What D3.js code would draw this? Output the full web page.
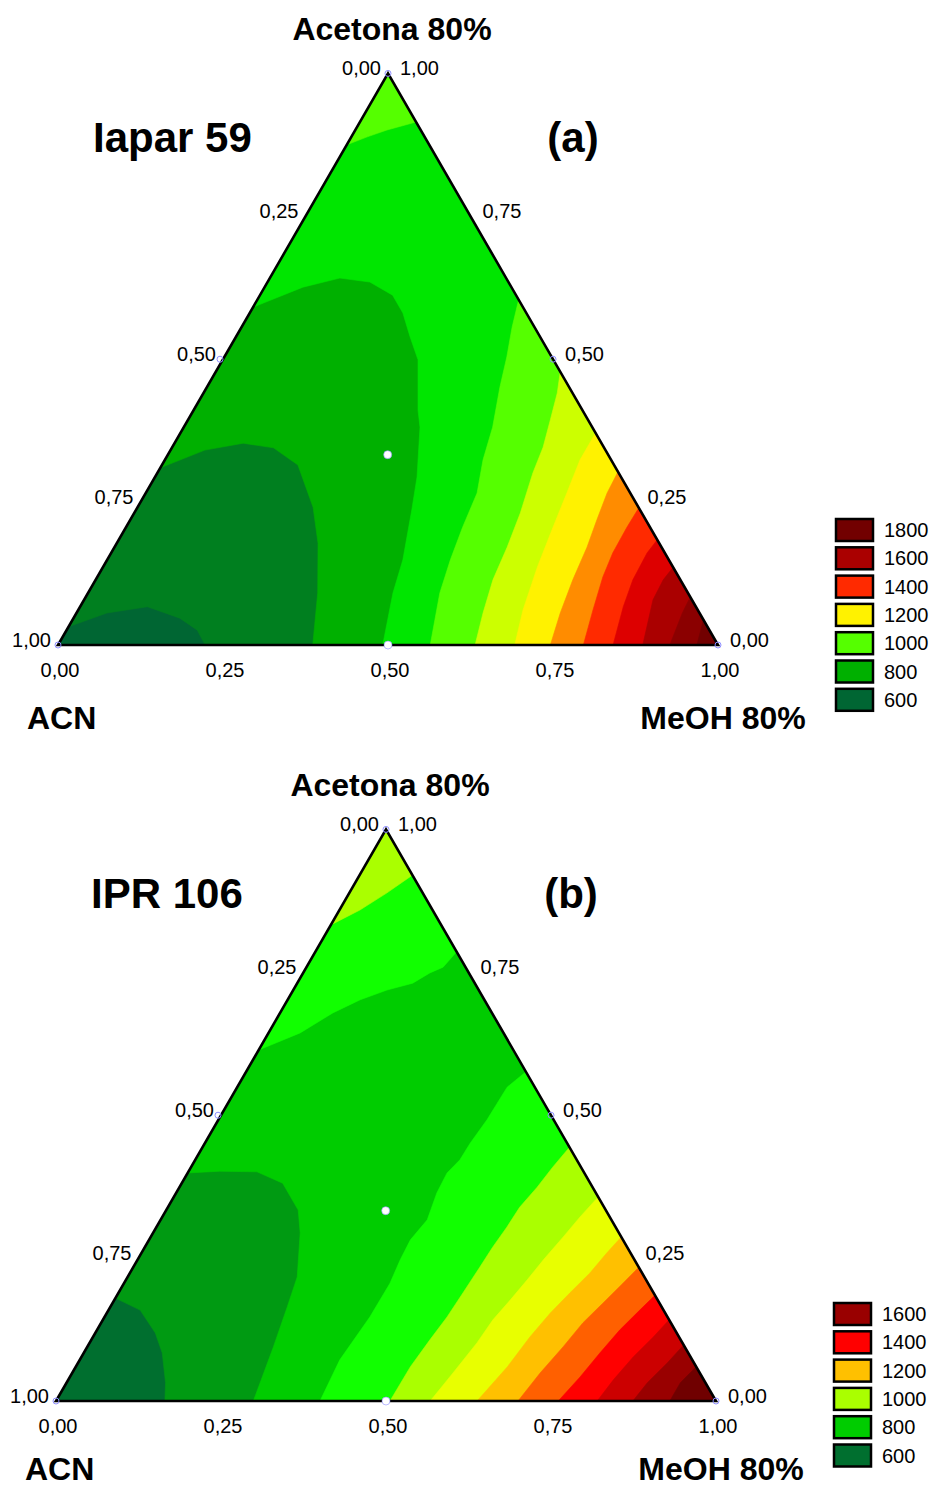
<!DOCTYPE html>
<html>
<head>
<meta charset="utf-8">
<script src="https://cdn.jsdelivr.net/npm/d3@7"></script>
<style>
  body { margin: 0; background: #fff; }
  text { font-family: "Liberation Sans", Arial, sans-serif; fill: #000; }
</style>
</head>
<body>
<svg id="chart" width="931" height="1488"></svg>
<script>
// ternary points are [MeOH, Acetona]; ACN = 1 - MeOH - Acetona
const ticks = [0, 0.25, 0.5, 0.75, 1];
const designPts = [[0, 1, "ring"], [0, 0, "ring"], [1, 0, "ring"], [0, 0.5, "ring"], [0.5, 0.5, "ring"], [0.5, 0, "dot"], [0.333, 0.333, "dot"]];

const levelsA = [600, 700, 800, 900, 1000, 1100, 1200, 1300, 1400, 1500, 1600, 1700, 1800];
const colorsA = ["#006633", "#007f1f", "#00b000", "#00e600", "#55ff00", "#ccff00", "#fff200",
                 "#ff8c00", "#ff2a00", "#dd0000", "#aa0000", "#8b0000", "#720000"];
const legendA = [1800, 1600, 1400, 1200, 1000, 800, 600];

const levelsB = [600, 700, 800, 900, 1000, 1100, 1200, 1300, 1400, 1500, 1600, 1700];
const colorsB = ["#006f2f", "#009a12", "#00cc00", "#11ff00", "#aaff00", "#e8ff00", "#ffc000",
                 "#ff6000", "#ff0000", "#cc0000", "#990000", "#700000"];
const legendB = [1600, 1400, 1200, 1000, 800, 600];

// contour lines [level, points], region on the high side gets the level colour
const contoursA = [
  [700, [[0, 0.032], [0.046, 0.056], [0.102, 0.067], [0.161, 0.047], [0.198, 0.026], [0.223, 0]]],
  [800, [[0, 0.31], [0.052, 0.341], [0.104, 0.353], [0.154, 0.345], [0.206, 0.315], [0.266, 0.241], [0.305, 0.178], [0.348, 0.091], [0.386, 0]]],
  [900, [[0, 0.591], [0.058, 0.626], [0.106, 0.642], [0.155, 0.635], [0.201, 0.612], [0.232, 0.581], [0.264, 0.539], [0.296, 0.499],
         [0.34, 0.411], [0.358, 0.381], [0.397, 0.294], [0.418, 0.236], [0.448, 0.149], [0.462, 0.091], [0.492, 0]]],
  [1000, [[0, 0.875], [0.024, 0.889], [0.048, 0.901], [0.085, 0.915]]],
  [1000, [[0.396, 0.604], [0.41, 0.556], [0.428, 0.504], [0.444, 0.451], [0.468, 0.381], [0.482, 0.324], [0.502, 0.266], [0.51, 0.206],
          [0.52, 0.149], [0.533, 0.091], [0.564, 0]]],
  [1100, [[0.522, 0.478], [0.536, 0.441], [0.549, 0.394], [0.562, 0.346], [0.569, 0.301], [0.585, 0.231], [0.595, 0.171], [0.602, 0.114], [0.616, 0.056], [0.632, 0]]],
  [1200, [[0.629, 0.371], [0.629, 0.324], [0.638, 0.266], [0.647, 0.206], [0.658, 0.137], [0.674, 0.061], [0.692, 0]]],
  [1300, [[0.697, 0.303], [0.699, 0.266], [0.707, 0.219], [0.716, 0.171], [0.723, 0.114], [0.733, 0.056], [0.746, 0]]],
  [1400, [[0.76, 0.24], [0.759, 0.206], [0.76, 0.161], [0.766, 0.119], [0.78, 0.061], [0.796, 0]]],
  [1500, [[0.816, 0.184], [0.812, 0.161], [0.814, 0.114], [0.823, 0.067], [0.841, 0]]],
  [1600, [[0.864, 0.136], [0.86, 0.114], [0.862, 0.079], [0.886, 0]]],
  [1700, [[0.916, 0.084], [0.918, 0.056], [0.927, 0]]],
  [1800, [[0.956, 0.044], [0.968, 0]]]
];

const contoursB = [
  [700, [[0, 0.18], [0.048, 0.159], [0.091, 0.119], [0.119, 0.084], [0.15, 0.032], [0.165, 0]]],
  [800, [[0, 0.399], [0.047, 0.402], [0.104, 0.401], [0.153, 0.381], [0.2, 0.334], [0.223, 0.294], [0.257, 0.217], [0.268, 0.165], [0.282, 0.095], [0.299, 0]]],
  [900, [[0, 0.614], [0.048, 0.644], [0.08, 0.679], [0.11, 0.702], [0.142, 0.719], [0.175, 0.731], [0.192, 0.749], [0.207, 0.759], [0.214, 0.786]]],
  [900, [[0.424, 0.576], [0.409, 0.549], [0.408, 0.521], [0.407, 0.492], [0.402, 0.451], [0.401, 0.422], [0.393, 0.399], [0.395, 0.364],
         [0.404, 0.317], [0.396, 0.282], [0.398, 0.247], [0.403, 0.206], [0.402, 0.147], [0.394, 0.072], [0.4, 0]]],
  [1000, [[0, 0.833], [0.031, 0.859], [0.057, 0.889], [0.08, 0.92]]],
  [1000, [[0.556, 0.444], [0.548, 0.409], [0.542, 0.374], [0.533, 0.339], [0.531, 0.304], [0.527, 0.269], [0.525, 0.234], [0.522, 0.189],
          [0.519, 0.147], [0.513, 0.107], [0.507, 0.06], [0.506, 0]]],
  [1100, [[0.643, 0.357], [0.633, 0.322], [0.625, 0.287], [0.615, 0.247], [0.608, 0.212], [0.6, 0.177], [0.591, 0.142], [0.587, 0.102], [0.577, 0.049], [0.567, 0]]],
  [1200, [[0.713, 0.287], [0.705, 0.259], [0.697, 0.224], [0.684, 0.189], [0.672, 0.154], [0.662, 0.112], [0.654, 0.06], [0.638, 0]]],
  [1300, [[0.766, 0.234], [0.756, 0.206], [0.743, 0.171], [0.73, 0.137], [0.721, 0.095], [0.709, 0.049], [0.7, 0]]],
  [1400, [[0.815, 0.185], [0.805, 0.159], [0.792, 0.124], [0.782, 0.084], [0.773, 0.042], [0.761, 0]]],
  [1500, [[0.858, 0.142], [0.849, 0.112], [0.836, 0.077], [0.826, 0.037], [0.82, 0]]],
  [1600, [[0.902, 0.098], [0.893, 0.067], [0.88, 0.032], [0.874, 0]]],
  [1700, [[0.94, 0.06], [0.93, 0.032], [0.93, 0]]]
];

const side = 660;
const svg = d3.select("#chart");
const fmt = v => d3.format(".2f")(v).replace(".", ",");

// position along the outline: 0 = ACN corner, 1 = MeOH corner, 2 = Acetona corner
function perim(p) {
  const [m, a] = p;
  if (a < 0.003) return m;
  if (Math.abs(m + a - 1) < 0.003) return 1 + a;
  return 3 - a;
}
const corners = { 1: [1, 0], 2: [0, 1], 3: [0, 0] };

function regionPts(pts) {
  let ts = perim(pts[0]);
  const te = perim(pts[pts.length - 1]);
  if (ts < te) ts += 3;
  const out = pts.slice();
  for (let k = Math.ceil(te + 1e-9); k < ts; k++) out.push(corners[((k - 1) % 3) + 1]);
  return out;
}

function drawPanel(p) {
  const g = svg.append("g");
  const h = side * Math.sqrt(3) / 2;
  const x = d3.scaleLinear().domain([0, 1]).range([p.x0, p.x0 + side]);
  const y = d3.scaleLinear().domain([0, 1]).range([p.yb, p.yb - h]);
  const px = d => x(d[0] + d[1] / 2), py = d => y(d[1]);
  const line = d3.line().x(px).y(py);
  const color = d3.scaleOrdinal().domain(p.levels).range(p.colors);
  const topX = px([0, 1]), topY = py([0, 1]);

  g.append("path")
    .attr("d", line([[0, 0], [1, 0], [0, 1]]) + "Z")
    .attr("fill", color(p.levels[0]));

  g.selectAll("path.band")
    .data(p.contours)
    .join("path")
      .attr("class", "band")
      .attr("d", d => line(regionPts(d[1])) + "Z")
      .attr("fill", d => color(d[0]))
      .attr("stroke", d => color(d[0]))
      .attr("stroke-width", 0.6);

  g.append("path")
    .attr("d", line([[0, 0], [1, 0], [0, 1]]) + "Z")
    .attr("fill", "none")
    .attr("stroke", "#000")
    .attr("stroke-width", 2.6);

  // design points
  g.selectAll("circle")
    .data(designPts)
    .join("circle")
      .attr("cx", d => px(d) - (d[2] === "ring" && d[0] === 0 && d[1] === 0.5 ? 3 : 0))
      .attr("cy", d => py(d))
      .attr("r", d => d[2] === "dot" ? 4 : 3)
      .attr("fill", d => d[2] === "dot" ? "#fff" : "none")
      .attr("stroke", "#8f8fff")
      .attr("stroke-width", d => d[2] === "dot" ? 0.6 : 1);

  // tick labels
  const tl = g.append("g").attr("font-size", 20);
  tl.selectAll("text.l").data(ticks).join("text").attr("class", "l")
    .attr("x", v => px([0, 1 - v]) - 7).attr("y", v => py([0, 1 - v]) - 5)
    .attr("dy", "0.35em").attr("text-anchor", "end").text(fmt);
  tl.selectAll("text.r").data(ticks).join("text").attr("class", "r")
    .attr("x", v => px([1 - v, v]) + 12).attr("y", v => py([1 - v, v]) - 5)
    .attr("dy", "0.35em").attr("text-anchor", "start").text(fmt);
  tl.selectAll("text.b").data(ticks).join("text").attr("class", "b")
    .attr("x", v => px([v, 0]) + 2).attr("y", v => py([v, 0]) + 25)
    .attr("dy", "0.35em").attr("text-anchor", "middle").text(fmt);

  // titles
  const cornerY = Math.min(p.yb + 84, 1480);
  g.append("text").attr("x", topX + 4).attr("y", topY - 33)
    .attr("text-anchor", "middle").attr("font-weight", "bold").attr("font-size", 32).text("Acetona 80%");
  g.append("text").attr("x", p.x0 + 35).attr("y", topY + 79)
    .attr("font-weight", "bold").attr("font-size", 42).text(p.name);
  g.append("text").attr("x", topX + 185).attr("y", topY + 79)
    .attr("text-anchor", "middle").attr("font-weight", "bold").attr("font-size", 42).text(p.tag);
  g.append("text").attr("x", p.x0 - 31).attr("y", cornerY)
    .attr("font-weight", "bold").attr("font-size", 32).text("ACN");
  g.append("text").attr("x", p.x0 + side + 5).attr("y", cornerY)
    .attr("text-anchor", "middle").attr("font-weight", "bold").attr("font-size", 32).text("MeOH 80%");

  // legend
  const step = 28.3;
  const ly = d3.scaleBand().domain(p.legend).range([p.ly, p.ly + step * p.legend.length]);
  const lg = svg.append("g");
  lg.selectAll("rect").data(p.legend).join("rect")
    .attr("x", p.lx).attr("y", v => ly(v))
    .attr("width", 37).attr("height", 22)
    .attr("fill", v => color(v))
    .attr("stroke", "#000").attr("stroke-width", 2.5);
  lg.selectAll("text").data(p.legend).join("text")
    .attr("x", p.lx + 48).attr("y", v => ly(v) + 11)
    .attr("dy", "0.35em").attr("font-size", 20).text(v => v);
}

drawPanel({ x0: 58, yb: 645, name: "Iapar 59", tag: "(a)", levels: levelsA, colors: colorsA,
            contours: contoursA, legend: legendA, lx: 836, ly: 519 });
drawPanel({ x0: 56, yb: 1401, name: "IPR 106", tag: "(b)", levels: levelsB, colors: colorsB,
            contours: contoursB, legend: legendB, lx: 834, ly: 1303 });
</script>
</body>
</html>
